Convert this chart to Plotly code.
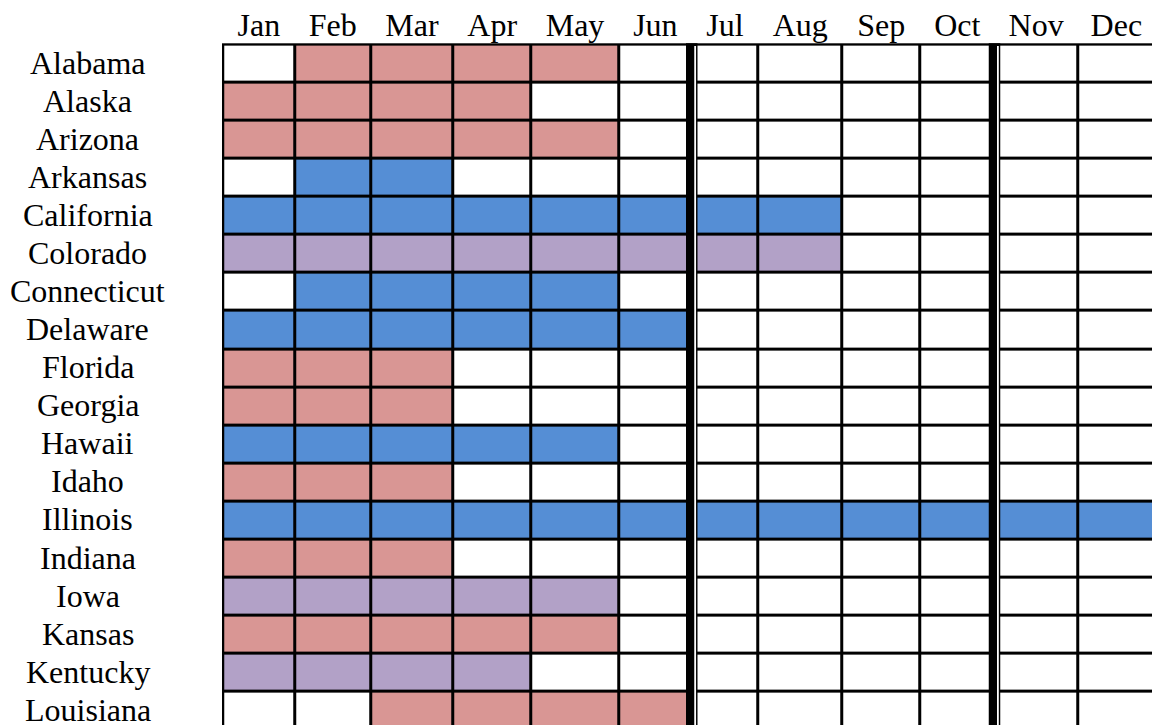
import plotly.graph_objects as go

# ---------------- data ----------------
MONTHS = ["Jan", "Feb", "Mar", "Apr", "May", "Jun",
          "Jul", "Aug", "Sep", "Oct", "Nov", "Dec"]
STATES = ["Alabama", "Alaska", "Arizona", "Arkansas", "California", "Colorado",
          "Connecticut", "Delaware", "Florida", "Georgia", "Hawaii", "Idaho",
          "Illinois", "Indiana", "Iowa", "Kansas", "Kentucky", "Louisiana"]
# status codes: 0 = none, 1 = pink, 2 = blue, 3 = purple
STATUS = [
    [0, 1, 1, 1, 1, 0, 0, 0, 0, 0, 0, 0],  # Alabama
    [1, 1, 1, 1, 0, 0, 0, 0, 0, 0, 0, 0],  # Alaska
    [1, 1, 1, 1, 1, 0, 0, 0, 0, 0, 0, 0],  # Arizona
    [0, 2, 2, 0, 0, 0, 0, 0, 0, 0, 0, 0],  # Arkansas
    [2, 2, 2, 2, 2, 2, 2, 2, 0, 0, 0, 0],  # California
    [3, 3, 3, 3, 3, 3, 3, 3, 0, 0, 0, 0],  # Colorado
    [0, 2, 2, 2, 2, 0, 0, 0, 0, 0, 0, 0],  # Connecticut
    [2, 2, 2, 2, 2, 2, 0, 0, 0, 0, 0, 0],  # Delaware
    [1, 1, 1, 0, 0, 0, 0, 0, 0, 0, 0, 0],  # Florida
    [1, 1, 1, 0, 0, 0, 0, 0, 0, 0, 0, 0],  # Georgia
    [2, 2, 2, 2, 2, 0, 0, 0, 0, 0, 0, 0],  # Hawaii
    [1, 1, 1, 0, 0, 0, 0, 0, 0, 0, 0, 0],  # Idaho
    [2, 2, 2, 2, 2, 2, 2, 2, 2, 2, 2, 2],  # Illinois
    [1, 1, 1, 0, 0, 0, 0, 0, 0, 0, 0, 0],  # Indiana
    [3, 3, 3, 3, 3, 0, 0, 0, 0, 0, 0, 0],  # Iowa
    [1, 1, 1, 1, 1, 0, 0, 0, 0, 0, 0, 0],  # Kansas
    [3, 3, 3, 3, 0, 0, 0, 0, 0, 0, 0, 0],  # Kentucky
    [0, 0, 1, 1, 1, 1, 0, 0, 0, 0, 0, 0],  # Louisiana
]
DOUBLE_RULE_AFTER = ["Jun", "Oct"]

# ---------------- layout / style ----------------
W, H = 1152, 725
COL_EDGES = [223.2, 294.7, 370.7, 453.3, 531.0, 619.0, 691.75,
             758.3, 842.3, 920.0, 994.5, 1077.7, 1155.0]
ROW_TOP = 44.6
ROW_H = 38.07
GRID_LEFT = 222.0
GRID_TOP = 43.3
LABEL_X = 87.5
FONT = "Liberation Serif, Times New Roman, serif"
FSIZE = 32
COLORS = ["#FFFFFF", "#D99694", "#558ED5", "#B2A1C7"]

row_edges = [ROW_TOP + ROW_H * i for i in range(len(STATES) + 1)]
col_centers = [(COL_EDGES[i] + COL_EDGES[i + 1]) / 2 for i in range(len(MONTHS))]
row_centers = [(row_edges[i] + row_edges[i + 1]) / 2 for i in range(len(STATES))]

n = len(COLORS) - 1
colorscale = [[k / n, c] for k, c in enumerate(COLORS)]

fig = go.Figure(go.Heatmap(
    z=STATUS, x=COL_EDGES, y=row_edges,
    zmin=0, zmax=n, colorscale=colorscale, showscale=False,
    xgap=3, ygap=3, hoverinfo="skip",
))

# double vertical rules
for m in DOUBLE_RULE_AFTER:
    b = COL_EDGES[MONTHS.index(m) + 1]
    fig.add_shape(type="rect", xref="x", yref="y", x0=b - 5.75, x1=b + 5.75,
                  y0=GRID_TOP - 5, y1=H + 10, fillcolor="black", line_width=0, layer="above")
    fig.add_shape(type="rect", xref="x", yref="y", x0=b + 2.5, x1=b + 4.3,
                  y0=GRID_TOP + 2.7, y1=H + 10, fillcolor="white", line_width=0, layer="above")

# row labels
for s, yc in zip(STATES, row_centers):
    fig.add_annotation(x=LABEL_X / W, xref="paper", y=yc - 1, yref="y", text=s,
                       showarrow=False, xanchor="center", yanchor="middle",
                       font=dict(family=FONT, size=FSIZE, color="black"))

fig.update_xaxes(range=[GRID_LEFT, W], domain=[GRID_LEFT / W, 1], side="top",
                 tickvals=col_centers, ticktext=MONTHS, ticks="", automargin=False,
                 showgrid=False, zeroline=False, showline=False,
                 tickfont=dict(family=FONT, size=FSIZE, color="black"))
fig.update_yaxes(range=[H, GRID_TOP], domain=[0, 1 - GRID_TOP / H], automargin=False,
                 showticklabels=False, showgrid=False, zeroline=False, showline=False)
fig.update_layout(width=W, height=H, margin=dict(l=0, r=0, t=0, b=0, pad=0),
                  paper_bgcolor="white", plot_bgcolor="black", showlegend=False)

fig.write_html("out.html", config={"displayModeBar": False},
               post_script="document.body.style.margin='0';document.body.style.overflow='hidden';")
